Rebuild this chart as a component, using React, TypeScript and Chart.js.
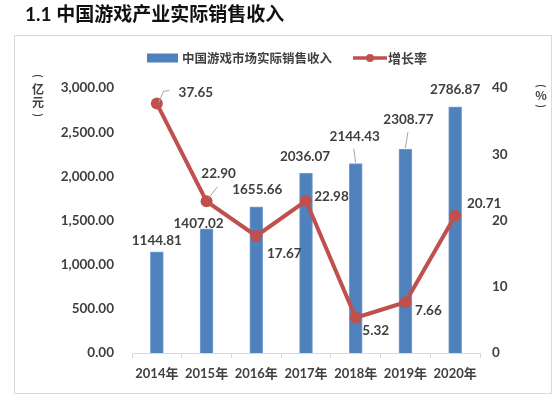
import React, { useEffect, useRef } from "react";
import { Chart, registerables } from "chart.js";

Chart.register(...registerables);

const chartTitle = "1.1 中国游戏产业实际销售收入";
const categories = ["2014年", "2015年", "2016年", "2017年", "2018年", "2019年", "2020年"];
const revenueName = "中国游戏市场实际销售收入";
const revenue = [1144.81, 1407.02, 1655.66, 2036.07, 2144.43, 2308.77, 2786.87];
const growthName = "增长率";
const growth = [37.65, 22.9, 17.67, 22.98, 5.32, 7.66, 20.71];
const leftUnit = ["(", "亿", "元", ")"];
const rightUnit = ["(", "%", ")"];
const leftMax = 3000;
const leftStep = 500;
const rightMax = 40;
const rightStep = 10;

// label placement (style), relative to library-computed anchors
const barLabelOffsets = [[0, -11], [-8, -5], [1, -17], [-1, -17], [-1, -27], [3, -29], [0, -17]];
const barLeaders: (number[][] | null)[] = [null, null, null, null, [[0, -1], [-2, -15]], [[0, -1], [2.5, -17]], null];
const lineLabelOffsets = [[39, -11], [12, -28], [28, 18], [25.5, -4], [20, 13], [23, 8], [29, -12]];
const lineLeaders: (number[][] | null)[] = [[[2, -1], [6.6, -12.3], [12.6, -13]], [[2, -3], [10.7, -14.4]], null, null, null, null, null];

const FONT = 'Lato, "Noto Sans CJK SC", sans-serif';
const CJK = '"Noto Sans CJK SC", sans-serif';
const TEXT = "#404040";
const BLUE = "#4F81BD";
const RED = "#C0504D";
const GRID = "#d9d9d9";

const fmt2 = (v: number) =>
  Number(v).toLocaleString("en-US", { minimumFractionDigits: 2, maximumFractionDigits: 2 });

function drawVertical(ctx: CanvasRenderingContext2D, chars: string[], x: number, ys: number[]) {
  chars.forEach((c, i) => {
    if (c === "(" || c === ")") {
      ctx.save();
      ctx.translate(x, ys[i]);
      ctx.rotate(Math.PI / 2);
      ctx.font = `bold 11px ${FONT}`;
      ctx.fillText(c, 0, 0);
      ctx.restore();
    } else {
      ctx.font = `bold 12px ${CJK}`;
      ctx.fillText(c, x, ys[i]);
    }
  });
}

const decor = {
  id: "decor",
  beforeDraw(chart: any) {
    const ctx = chart.ctx;
    ctx.save();
    ctx.fillStyle = "#ffffff";
    ctx.fillRect(0, 0, chart.width, chart.height);
    // frame
    ctx.strokeStyle = GRID;
    ctx.lineWidth = 1;
    ctx.strokeRect(14.5, 35.5, 537, 358);
    // title
    ctx.fillStyle = "#111111";
    ctx.font = `bold 19px ${FONT}`;
    ctx.textAlign = "left";
    ctx.textBaseline = "middle";
    ctx.fillText(chartTitle, 25, 15);
    // legend
    ctx.fillStyle = BLUE;
    ctx.fillRect(147, 53.5, 31, 9);
    ctx.fillStyle = TEXT;
    ctx.font = `bold 12.5px ${CJK}`;
    ctx.fillText(revenueName, 182, 58);
    ctx.strokeStyle = RED;
    ctx.lineWidth = 3.5;
    ctx.beginPath();
    ctx.moveTo(353, 58);
    ctx.lineTo(387, 58);
    ctx.stroke();
    ctx.fillStyle = RED;
    ctx.beginPath();
    ctx.arc(370, 58, 4, 0, Math.PI * 2);
    ctx.fill();
    ctx.fillStyle = TEXT;
    ctx.font = `bold 13px ${CJK}`;
    ctx.fillText(growthName, 388, 58);
    // axis unit titles (vertical)
    ctx.textAlign = "center";
    ctx.textBaseline = "middle";
    drawVertical(ctx, leftUnit, 38, [76, 89, 102, 115]);
    drawVertical(ctx, rightUnit, 541, [86, 95, 106]);
    ctx.restore();
  },
  afterDatasetsDraw(chart: any) {
    const ctx = chart.ctx;
    ctx.save();
    ctx.fillStyle = TEXT;
    ctx.strokeStyle = "#a6a6a6";
    ctx.lineWidth = 1;
    ctx.font = `bold 13.5px ${FONT}`;
    ctx.textAlign = "center";
    ctx.textBaseline = "middle";
    const barMeta = chart.getDatasetMeta(1);
    barMeta.data.forEach((el: any, i: number) => {
      const x = el.x, y = el.y;
      const lead = barLeaders[i];
      if (lead) {
        ctx.beginPath();
        lead.forEach((p, k) => (k === 0 ? ctx.moveTo(x + p[0], y + p[1]) : ctx.lineTo(x + p[0], y + p[1])));
        ctx.stroke();
      }
      ctx.fillText(revenue[i].toFixed(2), x + barLabelOffsets[i][0], y + barLabelOffsets[i][1]);
    });
    const lineMeta = chart.getDatasetMeta(0);
    lineMeta.data.forEach((el: any, i: number) => {
      const x = el.x, y = el.y;
      const lead = lineLeaders[i];
      if (lead) {
        ctx.beginPath();
        lead.forEach((p, k) => (k === 0 ? ctx.moveTo(x + p[0], y + p[1]) : ctx.lineTo(x + p[0], y + p[1])));
        ctx.stroke();
      }
      ctx.fillText(growth[i].toFixed(2), x + lineLabelOffsets[i][0], y + lineLabelOffsets[i][1]);
    });
    ctx.restore();
  },
};

export default function App() {
  const ref = useRef<HTMLCanvasElement | null>(null);
  useEffect(() => {
    if (!ref.current) return;
    const tickFont = { family: FONT, weight: "bold" as const, size: 13.5 };
    const chart = new Chart(ref.current, {
      type: "bar",
      data: {
        labels: categories,
        datasets: [
          {
            type: "line",
            label: growthName,
            data: growth,
            yAxisID: "y1",
            borderColor: RED,
            backgroundColor: RED,
            borderWidth: 4,
            pointRadius: 6,
            pointBackgroundColor: RED,
            pointBorderColor: RED,
            pointBorderWidth: 0,
            tension: 0,
            order: 1,
          } as any,
          {
            type: "bar",
            label: revenueName,
            data: revenue,
            yAxisID: "y",
            backgroundColor: BLUE,
            borderColor: "#7aa3d6",
            borderWidth: 1,
            barThickness: 13,
            order: 2,
          } as any,
        ],
      },
      options: {
        responsive: false,
        animation: false,
        devicePixelRatio: 1,
        layout: { padding: { top: 88, left: 0, right: 0, bottom: 0 } },
        plugins: { legend: { display: false }, title: { display: false }, tooltip: { enabled: false } },
        scales: {
          x: {
            offset: true,
            grid: { display: true, drawOnChartArea: false, drawTicks: true, tickLength: 5, color: GRID, offset: true },
            border: { display: true, color: GRID },
            ticks: { font: { family: FONT, weight: "bold", size: 13 }, color: TEXT, padding: 8, maxRotation: 0 },
            afterFit: (s: any) => {
              s.height = 45;
            },
          },
          y: {
            position: "left",
            min: 0,
            max: leftMax,
            grid: { display: false, drawTicks: false },
            border: { display: false },
            ticks: { stepSize: leftStep, font: tickFont, color: TEXT, padding: 18, callback: (v: any) => fmt2(v) },
            afterFit: (s: any) => {
              s.width = 132;
            },
          },
          y1: {
            position: "right",
            min: 0,
            max: rightMax,
            grid: { display: false, drawTicks: false },
            border: { display: false },
            ticks: { stepSize: rightStep, font: tickFont, color: TEXT, padding: 12 },
            afterFit: (s: any) => {
              s.width = 74;
            },
          },
        },
      } as any,
      plugins: [decor],
    });
    return () => chart.destroy();
  }, []);
  return (
    <div style={{ position: "fixed", left: 0, top: 0, width: 554, height: 398 }}>
      <canvas ref={ref} width={554} height={398} style={{ width: 554, height: 398 }} />
    </div>
  );
}
